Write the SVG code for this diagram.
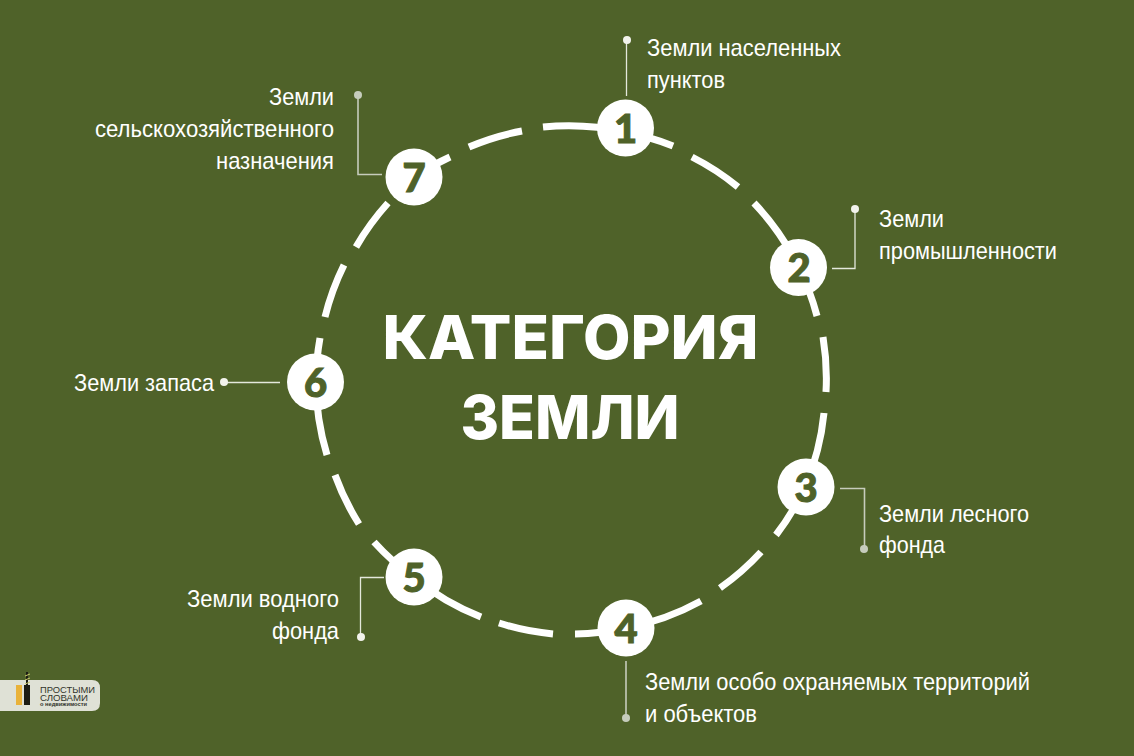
<svg xmlns="http://www.w3.org/2000/svg" width="1134" height="756" viewBox="0 0 1134 756">
<style>
.ring{fill:none;stroke:#fff;stroke-width:7}
.lead{fill:none;stroke:#e4e8dc;stroke-width:1.300}
.soft{stroke:#c6ccbc;stroke-width:1.600}
.dot{fill:#f2f3ec}
.dots{fill:#c6ccbc}
.disc{fill:#fff}
.num{font-family:"Lato","Liberation Sans",sans-serif;font-weight:900;font-size:40px;fill:#4f6229;stroke:#4f6229;stroke-width:1;text-anchor:middle}
.lab{font-family:"Liberation Sans",Arial,sans-serif;font-size:24px;fill:#fff}
.r{text-anchor:end}
.title{font-family:"Inter","Liberation Sans",sans-serif;font-weight:800;font-size:61px;fill:#fff;text-anchor:middle}
.lg{font-family:"Liberation Sans",sans-serif;fill:#33352c}
</style>
<rect width="1134" height="756" fill="#4f6229"/>
<g id="connectors">
<path class="ring" d="M625 132A253 253 0 0 1 673 146M692 157A253 253 0 0 1 738 187M754 203A253 253 0 0 1 798 266M798 266A253 253 0 0 1 817 316M823 337A253 253 0 0 1 826 392M824 413A253 253 0 0 1 805 487M805 487A253 253 0 0 1 776 535M761 552A253 253 0 0 1 720 588M701 601A253 253 0 0 1 626 628M626 628A253 253 0 0 1 575 634M553 634A253 253 0 0 1 499 623M481 617A253 253 0 0 1 413 577M413 577A253 253 0 0 1 374 542M359 524A253 253 0 0 1 335 475M327 455A253 253 0 0 1 316 382M316 382A253 253 0 0 1 320 338M325 317A253 253 0 0 1 344 265M356 247A253 253 0 0 1 388 203M414 177A253 253 0 0 1 450 157M469 147A253 253 0 0 1 522 131M543 127A253 253 0 0 1 625 132"/>
<path class="lead" d="M626.500 40V96"/>
<path class="lead" d="M855 209V268.500H832"/>
<path class="lead soft" d="M840 488.500H864.500V549"/>
<path class="lead soft" d="M626 661V718"/>
<path class="lead" d="M384 577.500H360.500V637"/>
<path class="lead" d="M224 382.500H280"/>
<path class="lead soft" d="M358 95V174.500H382"/>
<circle class="dot" cx="627" cy="40" r="4"/>
<circle class="dot" cx="855" cy="209" r="4"/>
<circle class="dots" cx="864" cy="549" r="4"/>
<circle class="dots" cx="626" cy="718" r="4"/>
<circle class="dot" cx="361" cy="637" r="4"/>
<circle class="dot" cx="224" cy="382" r="4"/>
<circle class="dots" cx="358" cy="95" r="4"/>
</g>
<g id="center"><text class="title" x="570.500" y="359" textLength="376" lengthAdjust="spacingAndGlyphs">КАТЕГОРИЯ</text><text class="title" x="570" y="439" textLength="219" lengthAdjust="spacingAndGlyphs">ЗЕМЛИ</text></g>
<g id="n1"><circle class="disc" cx="625.500" cy="128" r="28.500"/><text class="num" x="625.500" y="143">1</text><text class="lab" x="647" y="56" textLength="194" lengthAdjust="spacingAndGlyphs">Земли населенных</text><text class="lab" x="647" y="88" textLength="78" lengthAdjust="spacingAndGlyphs">пунктов</text></g>
<g id="n2"><circle class="disc" cx="798.500" cy="267.500" r="28.500"/><text class="num" x="799" y="282">2</text><text class="lab" x="879" y="227" textLength="65" lengthAdjust="spacingAndGlyphs">Земли</text><text class="lab" x="879" y="259" textLength="178" lengthAdjust="spacingAndGlyphs">промышленности</text></g>
<g id="n3"><circle class="disc" cx="806" cy="487" r="28.500"/><text class="num" x="806" y="502">3</text><text class="lab" x="879" y="522" textLength="150" lengthAdjust="spacingAndGlyphs">Земли лесного</text><text class="lab" x="879" y="553" textLength="66" lengthAdjust="spacingAndGlyphs">фонда</text></g>
<g id="n4"><circle class="disc" cx="626" cy="628" r="28.500"/><text class="num" x="626" y="643">4</text><text class="lab" x="645" y="690" textLength="385" lengthAdjust="spacingAndGlyphs">Земли особо охраняемых территорий</text><text class="lab" x="645" y="722" textLength="112" lengthAdjust="spacingAndGlyphs">и объектов</text></g>
<g id="n5"><circle class="disc" cx="414" cy="577" r="28.500"/><text class="num" x="414" y="592">5</text><text class="lab r" x="339" y="607" textLength="152" lengthAdjust="spacingAndGlyphs">Земли водного</text><text class="lab r" x="339" y="639" textLength="67" lengthAdjust="spacingAndGlyphs">фонда</text></g>
<g id="n6"><circle class="disc" cx="315.500" cy="382" r="28.500"/><text class="num" x="315.500" y="397">6</text><text class="lab r" x="214" y="391" textLength="140" lengthAdjust="spacingAndGlyphs">Земли запаса</text></g>
<g id="n7"><circle class="disc" cx="414" cy="177" r="28.500"/><text class="num" x="414" y="192">7</text><text class="lab r" x="334" y="105" textLength="65" lengthAdjust="spacingAndGlyphs">Земли</text><text class="lab r" x="334" y="137" textLength="239" lengthAdjust="spacingAndGlyphs">сельскохозяйственного</text><text class="lab r" x="334" y="169" textLength="118" lengthAdjust="spacingAndGlyphs">назначения</text></g>
<g id="logo">
<path d="M0 680H92Q100 680 100 688V703Q100 711 92 711H0Z" fill="#dfe1d6"/>
<rect x="16" y="685" width="6" height="20" fill="#e9b23a"/>
<rect x="24" y="685" width="6" height="20" fill="#1c1c14"/>
<path d="M27 672V685" stroke="#1c1c14" stroke-width="2"/>
<path d="M25 676L30 674M25 680L30 678M25 684L30 682" stroke="#c9c66a" stroke-width="1"/>
<text class="lg" x="40" y="692.500" font-size="9" textLength="55" lengthAdjust="spacingAndGlyphs">ПРОСТЫМИ</text>
<text class="lg" x="40" y="700.500" font-size="9" textLength="48" lengthAdjust="spacingAndGlyphs">СЛОВАМИ</text>
<text class="lg" x="40" y="705.500" font-size="4.500" font-weight="700" textLength="47" lengthAdjust="spacingAndGlyphs">о недвижимости</text>
</g>
</svg>
